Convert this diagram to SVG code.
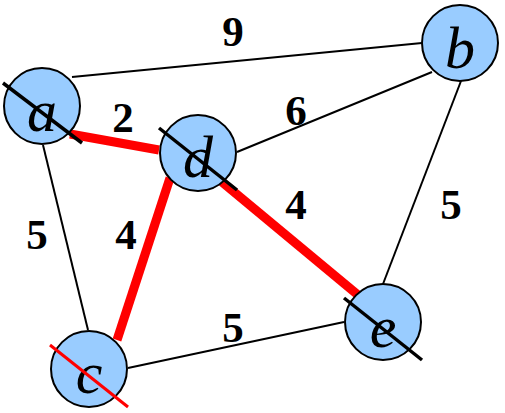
<svg xmlns="http://www.w3.org/2000/svg" width="505" height="413" viewBox="0 0 505 413">
<style>
.e{stroke:#000;stroke-width:2;fill:none}
.r{stroke:#f00;stroke-width:9;fill:none}
.n{fill:#99ccff;stroke:#000;stroke-width:2}
.t{font-family:"Liberation Serif",serif;font-style:italic;font-size:60px;text-anchor:middle;fill:#000}
.w{font-family:"Liberation Serif",serif;font-weight:bold;font-size:43px;text-anchor:middle;fill:#000}
.s{stroke:#000;stroke-width:3.5}
.sr{stroke:#f00;stroke-width:3}
</style>
<rect width="505" height="413" fill="#fff"/>
<g id="edges">
<line class="e" x1="72" y1="77" x2="422" y2="43"/>
<line class="e" x1="43" y1="145" x2="88" y2="330"/>
<line class="e" x1="237" y1="152" x2="432" y2="72"/>
<line class="e" x1="461" y1="81" x2="383" y2="284"/>
<line class="e" x1="128" y1="368" x2="344" y2="322"/>
<line class="r" x1="70" y1="134" x2="159" y2="150"/>
<line class="r" x1="170" y1="178" x2="117" y2="340"/>
<line class="r" x1="222" y1="182" x2="358" y2="295"/>
</g>
<g id="weights">
<text class="w" x="233" y="46">9</text>
<text class="w" x="123" y="132">2</text>
<text class="w" x="296" y="125">6</text>
<text class="w" x="296" y="219">4</text>
<text class="w" x="451" y="219">5</text>
<text class="w" x="37" y="249">5</text>
<text class="w" x="126" y="249">4</text>
<text class="w" x="233" y="342">5</text>
</g>
<g id="node-a">
<circle class="n" cx="42" cy="106" r="38"/>
<text class="t" x="42" y="131">a</text>
<line class="s" x1="3" y1="83" x2="82" y2="143"/>
</g>
<g id="node-b">
<circle class="n" cx="460" cy="43" r="38"/>
<text class="t" x="460" y="68">b</text>
</g>
<g id="node-c">
<circle class="n" cx="89" cy="369" r="38"/>
<text class="t" x="89" y="393">c</text>
<line class="sr" x1="50" y1="345" x2="128" y2="407"/>
</g>
<g id="node-d">
<circle class="n" cx="198" cy="153" r="38"/>
<text class="t" x="198" y="177">d</text>
<line class="s" x1="159" y1="128" x2="237" y2="190"/>
</g>
<g id="node-e">
<circle class="n" cx="383" cy="322" r="38"/>
<text class="t" x="383" y="347">e</text>
<line class="s" x1="344" y1="298" x2="422" y2="360"/>
</g>
</svg>
